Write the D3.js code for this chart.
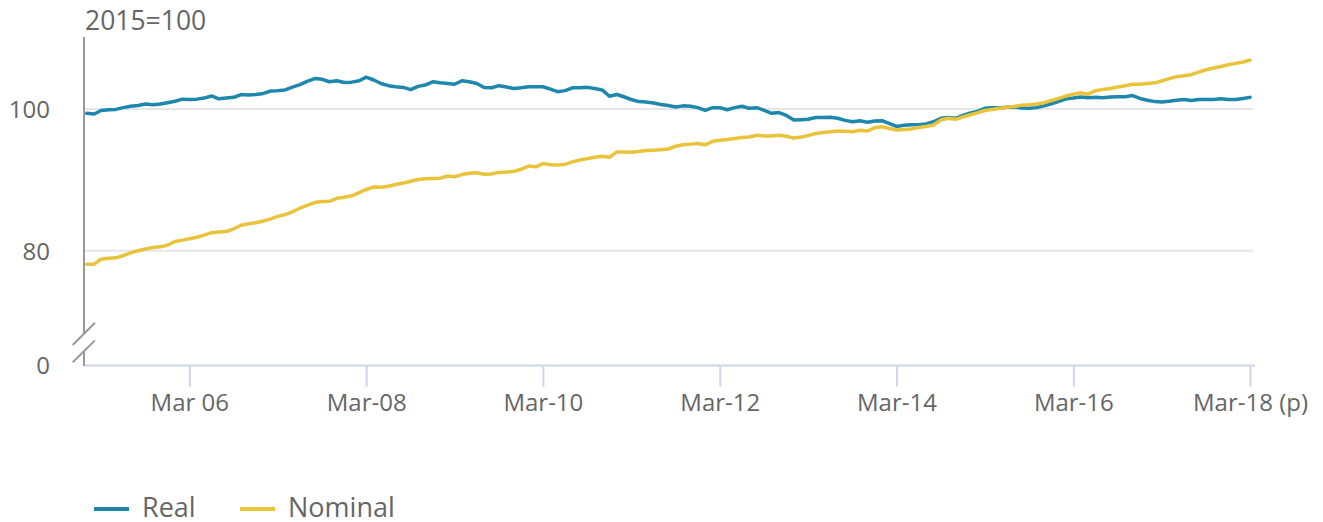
<!DOCTYPE html>
<html>
<head>
<meta charset="utf-8">
<script src="https://cdn.jsdelivr.net/npm/d3@7"></script>
<style>
  html, body { margin: 0; padding: 0; background: #fff; }
  svg { display: block; font-family: "Open Sans", "Noto Sans", sans-serif; }
</style>
</head>
<body>
<svg id="chart" width="1323" height="522"></svg>
<script>
// ---- data (monthly, Jan 2005 .. Mar 2018), index 2015=100 ----
const startYear = 2005, startMonth = 0; // January 2005
const real = [
  99.4, 99.3, 99.8, 99.9, 99.95, 100.2, 100.4, 100.5, 100.7, 100.6, 100.7, 100.9,
  101.1, 101.4, 101.35, 101.4, 101.55, 101.85, 101.45, 101.55, 101.65, 102.05, 102.0, 102.05,
  102.2, 102.55, 102.6, 102.7, 103.1, 103.45, 103.9, 104.3, 104.2, 103.85, 104.0, 103.75,
  103.8, 104.0, 104.5, 104.1, 103.6, 103.3, 103.15, 103.05, 102.75, 103.2, 103.4, 103.85,
  103.7, 103.6, 103.5, 104.0, 103.85, 103.6, 103.05, 103.0, 103.3, 103.1, 102.9, 103.0,
  103.15, 103.15, 103.15, 102.8, 102.45, 102.6, 103.0, 103.0, 103.06, 102.9, 102.7, 101.8,
  102.05, 101.7, 101.35, 101.05, 101.0, 100.85, 100.65, 100.5, 100.3, 100.45, 100.4, 100.2,
  99.8, 100.2, 100.2, 99.9, 100.2, 100.4, 100.1, 100.2, 99.8, 99.4, 99.5, 99.1,
  98.45, 98.5, 98.55, 98.8, 98.8, 98.85, 98.7, 98.4, 98.2, 98.35, 98.15, 98.3,
  98.35, 97.95, 97.55, 97.7, 97.8, 97.8, 97.9, 98.2, 98.7, 98.8, 98.7, 99.1,
  99.45, 99.7, 100.1, 100.2, 100.2, 100.25, 100.3, 100.15, 100.1, 100.2, 100.45, 100.75,
  101.1, 101.45, 101.55, 101.7, 101.6, 101.65, 101.6, 101.7, 101.75, 101.75, 101.9, 101.5,
  101.25, 101.05, 101.0, 101.1, 101.25, 101.35, 101.2, 101.35, 101.35, 101.35, 101.45, 101.35,
  101.35, 101.5, 101.65
];
const nominal = [
  78.1, 78.1, 78.8, 78.95, 79.0, 79.3, 79.7, 80.0, 80.25, 80.45, 80.55, 80.8,
  81.3, 81.5, 81.7, 81.9, 82.2, 82.55, 82.65, 82.7, 83.1, 83.6, 83.8, 83.95,
  84.2, 84.5, 84.85, 85.1, 85.5, 86.0, 86.4, 86.8, 86.95, 86.97, 87.4, 87.55,
  87.75, 88.2, 88.65, 89.0, 88.95, 89.1, 89.35, 89.55, 89.8, 90.05, 90.15, 90.2,
  90.25, 90.55, 90.45, 90.75, 90.95, 91.0, 90.8, 90.85, 91.06, 91.1, 91.2, 91.5,
  91.95, 91.85, 92.3, 92.15, 92.1, 92.2, 92.55, 92.8, 93.0, 93.2, 93.35, 93.2,
  93.95, 93.95, 93.9, 94.0, 94.15, 94.2, 94.25, 94.35, 94.75, 94.95, 95.05, 95.15,
  94.95, 95.45, 95.6, 95.7, 95.85, 96.0, 96.05, 96.3, 96.2, 96.2, 96.3, 96.15,
  95.9, 96.05, 96.25, 96.55, 96.7, 96.8, 96.9, 96.85, 96.8, 97.0, 96.9, 97.35,
  97.5, 97.25, 97.05, 97.1, 97.2, 97.4, 97.55, 97.75, 98.45, 98.7, 98.55, 98.9,
  99.2, 99.5, 99.8, 99.95, 100.1, 100.25, 100.35, 100.55, 100.6, 100.7, 100.9, 101.2,
  101.5, 101.85, 102.1, 102.3, 102.1, 102.6, 102.75, 102.9, 103.1, 103.3, 103.5, 103.5,
  103.6, 103.7, 103.95, 104.3, 104.55, 104.7, 104.85, 105.2, 105.55, 105.8, 106.0, 106.25,
  106.45, 106.65, 106.9
];
const tickMonths = ["2006-03", "2008-03", "2010-03", "2012-03", "2014-03", "2016-03", "2018-03"];
const tickLabels = ["Mar 06", "Mar-08", "Mar-10", "Mar-12", "Mar-14", "Mar-16", "Mar-18 (p)"];
const yTicks = [0, 80, 100];
const yGrid = [80, 100];
const unitLabel = "2015=100";
const seriesNames = ["Real", "Nominal"];
const seriesColors = ["#1d87ae", "#e9c33a"];

// ---- layout ----
const svg = d3.select("#chart");
const plotLeft = 84, plotRight = 1253, plotTop = 37;
const textColor = "#666666";
const fontSize = 24;

const dates = real.map((_, i) => new Date(startYear, startMonth + i, 1));
const parseM = d3.timeParse("%Y-%m");

const x = d3.scaleTime()
  .domain([dates[0], dates[dates.length - 1]])
  .range([86.7, 1250]);

// broken axis: 0 sits just below the break, 70..110 is the main region
const y = d3.scaleLinear()
  .domain([0, 70, 110])
  .range([365.5, 321.6, 38.2]);

// gridlines
svg.append("g")
  .selectAll("line")
  .data(yGrid)
  .join("line")
  .attr("x1", plotLeft).attr("x2", plotRight)
  .attr("y1", d => y(d)).attr("y2", d => y(d))
  .attr("stroke", "#e6e6e6").attr("stroke-width", 2);

// y axis labels
const yAxis = d3.axisLeft(y).tickValues(yTicks).tickSize(0).tickPadding(0).tickFormat(d3.format("d"));
const gy = svg.append("g").attr("transform", "translate(50,0)").call(yAxis);
gy.select(".domain").remove();
gy.selectAll("text")
  .attr("fill", textColor)
  .style("font-size", fontSize + "px")
  .style("font-family", '"Open Sans", sans-serif')
  .attr("dy", "0.35em");

// y axis line with break
const axisColor = "#999999";
svg.append("line").attr("x1", plotLeft).attr("x2", plotLeft)
  .attr("y1", plotTop).attr("y2", 333.5)
  .attr("stroke", axisColor).attr("stroke-width", 2);
svg.append("line").attr("x1", plotLeft).attr("x2", plotLeft)
  .attr("y1", 351.5).attr("y2", 366)
  .attr("stroke", axisColor).attr("stroke-width", 2);
[[72.7, 345, 95, 322.7], [72.7, 362.3, 95, 340.4]].forEach(s => {
  svg.append("line").attr("x1", s[0]).attr("y1", s[1]).attr("x2", s[2]).attr("y2", s[3])
    .attr("stroke", axisColor).attr("stroke-width", 2);
});

// x axis
const xAxis = d3.axisBottom(x)
  .tickValues(tickMonths.map(parseM))
  .tickFormat((d, i) => tickLabels[i])
  .tickSize(21).tickSizeOuter(0).tickPadding(7);
const gx = svg.append("g").attr("transform", `translate(0,${y(0)})`).call(xAxis);
gx.select(".domain").remove();
gx.selectAll(".tick line").attr("stroke", "#ccd6eb").attr("stroke-width", 2);
gx.selectAll("text")
  .attr("fill", textColor)
  .style("font-size", fontSize + "px")
  .style("font-family", '"Open Sans", sans-serif');
svg.append("line").attr("x1", plotLeft + 1).attr("x2", plotRight + 2)
  .attr("y1", y(0)).attr("y2", y(0))
  .attr("stroke", "#ccd6eb").attr("stroke-width", 2);

// unit label
svg.append("text").attr("x", 85).attr("y", 29.5)
  .attr("fill", textColor).style("font-size", "26.5px")
  .text(unitLabel);

// lines
const line = d3.line().x((d, i) => x(dates[i])).y(d => y(d));
[real, nominal].forEach((s, k) => {
  svg.append("path").datum(s)
    .attr("d", line)
    .attr("fill", "none")
    .attr("stroke", seriesColors[k])
    .attr("stroke-width", 3.5)
    .attr("stroke-linejoin", "round")
    .attr("stroke-linecap", "round");
});

// legend
const legendX = [94, 240];
seriesNames.forEach((n, k) => {
  const g = svg.append("g").attr("transform", `translate(${legendX[k]},509)`);
  g.append("line").attr("x1", 0).attr("x2", 35).attr("y1", 0).attr("y2", 0)
    .attr("stroke", seriesColors[k]).attr("stroke-width", 4);
  g.append("text").attr("x", 48).attr("y", 8)
    .attr("fill", textColor).style("font-size", "27px").text(n);
});
</script>
</body>
</html>
